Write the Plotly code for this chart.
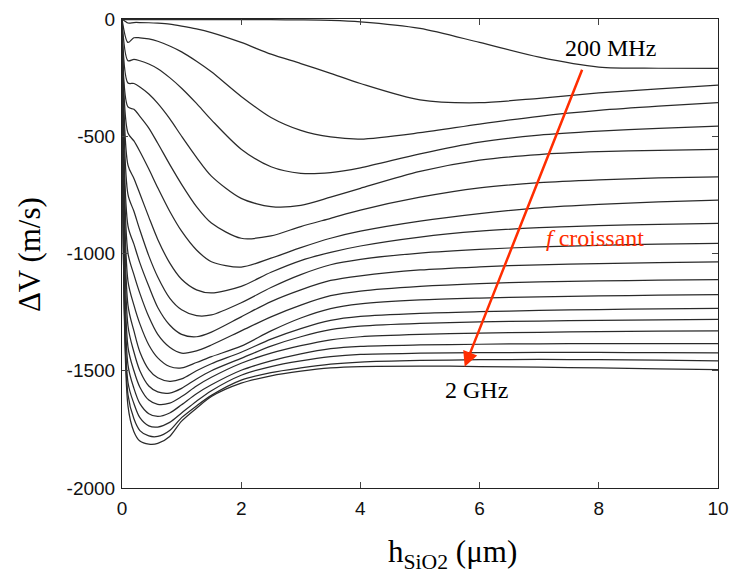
import plotly.graph_objects as go

# thickness of SiO2 layer (um)
H = [0, 0.1, 0.2, 0.3, 0.45, 0.6, 0.8, 1.0, 1.25, 1.5, 2.0, 2.5, 3.0, 3.5, 4.0, 5.0, 6.0, 7.0, 8.0, 9.0, 10.0]

dv_200 = [0, -3, -3, -3, -3, -3, -3, -3, -3, -3, -3, -3, -4, -6, -12, -40, -100, -163, -205, -210, -211]
dv_300 = [0, -17, -15, -15, -16, -18, -22, -30, -42, -58, -100, -150, -190, -232, -275, -345, -357, -338, -315, -298, -282]
dv_400 = [0, -100, -80, -80, -85, -95, -115, -140, -180, -225, -330, -420, -475, -503, -512, -485, -448, -415, -390, -372, -357]
dv_500 = [0, -178, -172, -178, -192, -212, -250, -295, -360, -430, -555, -630, -658, -655, -635, -575, -525, -495, -478, -466, -457]
dv_600 = [0, -273, -275, -290, -320, -360, -425, -500, -590, -670, -765, -800, -795, -760, -722, -650, -602, -578, -566, -560, -556]
dv_700 = [0, -375, -385, -415, -465, -530, -620, -705, -800, -870, -935, -925, -885, -850, -815, -760, -720, -698, -686, -678, -673]
dv_800 = [0, -486, -520, -565, -640, -720, -820, -905, -985, -1035, -1058, -1020, -975, -935, -905, -862, -830, -805, -790, -780, -772]
dv_900 = [0, -623, -680, -745, -845, -940, -1040, -1110, -1155, -1168, -1140, -1080, -1030, -995, -968, -930, -905, -890, -881, -876, -872]
dv_1000 = [0, -748, -820, -900, -1010, -1100, -1190, -1240, -1265, -1262, -1210, -1145, -1090, -1048, -1025, -998, -982, -972, -965, -960, -957]
dv_1100 = [0, -882, -960, -1040, -1140, -1230, -1305, -1345, -1355, -1335, -1270, -1205, -1155, -1115, -1095, -1070, -1057, -1048, -1043, -1039, -1036]
dv_1200 = [0, -998, -1090, -1170, -1270, -1345, -1400, -1425, -1415, -1390, -1330, -1270, -1220, -1180, -1160, -1140, -1128, -1121, -1117, -1114, -1111]
dv_1300 = [0, -1118, -1220, -1300, -1390, -1445, -1482, -1488, -1465, -1440, -1395, -1330, -1275, -1235, -1215, -1198, -1190, -1185, -1181, -1178, -1175]
dv_1400 = [0, -1220, -1330, -1420, -1495, -1530, -1545, -1535, -1500, -1470, -1421, -1365, -1320, -1285, -1268, -1255, -1248, -1243, -1239, -1236, -1234]
dv_1500 = [0, -1308, -1420, -1500, -1565, -1590, -1595, -1575, -1535, -1500, -1447, -1395, -1355, -1325, -1310, -1298, -1292, -1288, -1285, -1283, -1281]
dv_1600 = [0, -1398, -1500, -1570, -1625, -1643, -1638, -1610, -1565, -1528, -1468, -1425, -1393, -1368, -1355, -1345, -1340, -1336, -1333, -1331, -1330]
dv_1700 = [0, -1475, -1575, -1640, -1683, -1695, -1680, -1645, -1598, -1560, -1498, -1458, -1428, -1406, -1396, -1390, -1387, -1385, -1384, -1384, -1384]
dv_1800 = [0, -1549, -1640, -1700, -1735, -1740, -1720, -1680, -1630, -1585, -1519, -1482, -1458, -1440, -1430, -1425, -1423, -1422, -1422, -1423, -1424]
dv_1900 = [0, -1602, -1705, -1755, -1778, -1780, -1755, -1700, -1650, -1605, -1540, -1508, -1488, -1472, -1463, -1456, -1453, -1452, -1453, -1455, -1458]
dv_2000 = [0, -1650, -1760, -1800, -1813, -1810, -1780, -1715, -1660, -1610, -1553, -1522, -1502, -1488, -1482, -1480, -1482, -1485, -1488, -1492, -1495]

freqs = ["200 MHz", "300 MHz", "400 MHz", "500 MHz", "600 MHz", "700 MHz", "800 MHz",
         "900 MHz", "1 GHz", "1.1 GHz", "1.2 GHz", "1.3 GHz", "1.4 GHz", "1.5 GHz",
         "1.6 GHz", "1.7 GHz", "1.8 GHz", "1.9 GHz", "2 GHz"]
series = [dv_200, dv_300, dv_400, dv_500, dv_600, dv_700, dv_800, dv_900, dv_1000,
          dv_1100, dv_1200, dv_1300, dv_1400, dv_1500, dv_1600, dv_1700, dv_1800,
          dv_1900, dv_2000]

x_ticks = [0, 2, 4, 6, 8, 10]
y_ticks = [0, -500, -1000, -1500, -2000]
y_ticktext = ["0", "-500", "-1000", "-1500", "-2000"]

# arrow (frequency increasing) from 200 MHz curve to 2 GHz curve
arrow_start = (7.73, -210)
arrow_end = (5.75, -1483)

fig = go.Figure()
for name, dv in zip(freqs, series):
    fig.add_trace(go.Scatter(x=H, y=dv, mode="lines", name=name,
                             line=dict(color="#2a2a2a", width=1.25, shape="spline", smoothing=0.8),
                             showlegend=False))

serif = "Liberation Serif, Times New Roman, serif"
tickfont = dict(family="Liberation Sans, Arial", size=19, color="#111")

fig.update_layout(
    width=730, height=577,
    margin=dict(l=122, r=12, t=19, b=89),
    paper_bgcolor="white", plot_bgcolor="white",
    xaxis=dict(range=[0, 10], tickvals=x_ticks, ticks="inside", ticklen=6, automargin=False,
               showline=True, linecolor="#222", linewidth=1, mirror="ticks",
               showgrid=False, zeroline=False, tickfont=tickfont, ticklabelstandoff=3),
    yaxis=dict(range=[-2000, 0], tickvals=y_ticks, ticktext=y_ticktext, ticks="inside",
               ticklen=6, showline=True, linecolor="#222", linewidth=1, mirror="ticks",
               automargin=False,
               showgrid=False, zeroline=False, tickfont=tickfont, ticklabelstandoff=2),
    annotations=[
        dict(x=arrow_end[0], y=arrow_end[1], ax=arrow_start[0], ay=arrow_start[1],
             xref="x", yref="y", axref="x", ayref="y", text="", showarrow=True,
             arrowhead=2, arrowsize=1.2, arrowwidth=2.5, arrowcolor="#ff2d00"),
        dict(x=8.19, y=-124, xref="x", yref="y", text="200 MHz", showarrow=False,
             font=dict(family=serif, size=24, color="black")),
        dict(x=5.95, y=-1583, xref="x", yref="y", text="2 GHz", showarrow=False,
             font=dict(family=serif, size=24, color="black")),
        dict(x=7.93, y=-934, xref="x", yref="y", text="<i>f</i> croissant", showarrow=False,
             font=dict(family=serif, size=24, color="#ff2d00")),
        dict(x=-0.154, y=0.497, xref="paper", yref="paper", xanchor="center", yanchor="middle",
             text="ΔV (m/s)", textangle=-90,
             showarrow=False, font=dict(family=serif, size=31, color="black")),
        dict(x=0.555, y=-0.14, xref="paper", yref="paper", xanchor="center", yanchor="middle",
             text="h<sub>SiO2</sub> (μm)", showarrow=False,
             font=dict(family=serif, size=31, color="black")),
    ],
)

fig.write_html("out.html", config={"displayModeBar": False},
               post_script="document.body.style.margin='0px';")
